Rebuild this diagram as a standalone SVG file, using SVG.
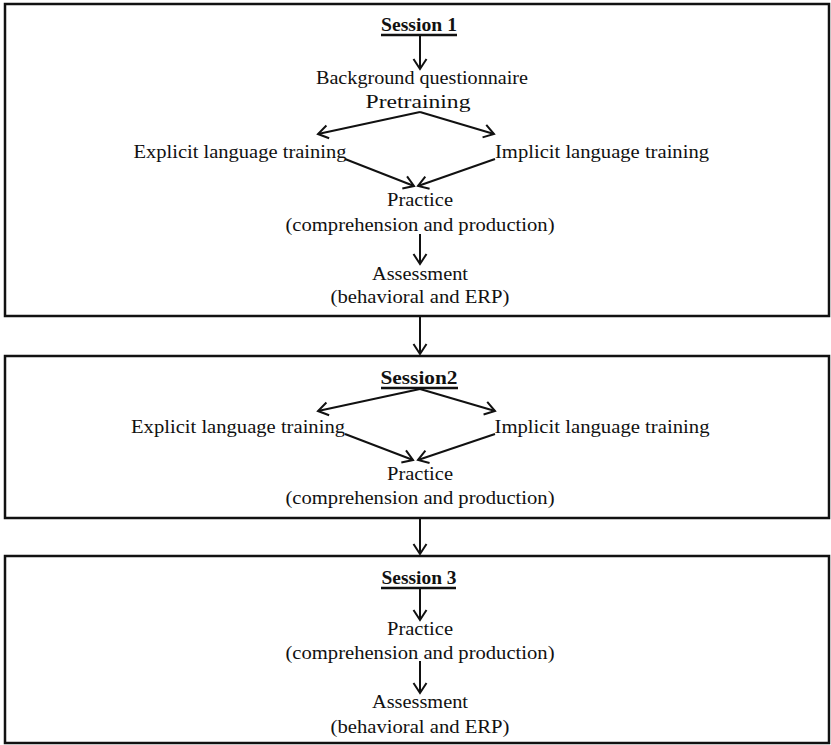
<svg xmlns="http://www.w3.org/2000/svg" width="831" height="745" viewBox="0 0 831 745">
<style>
.box{fill:#fff;stroke:#111;stroke-width:2.5}
.t{font-family:"Liberation Serif","Times New Roman",serif;font-size:19px;fill:#111;text-anchor:middle}
.s{font-weight:bold}
.ul{stroke:#111;stroke-width:2.5}
.c{stroke:#111;stroke-width:2;fill:none;marker-end:url(#ah)}
</style>
<defs>
<marker id="ah" markerUnits="userSpaceOnUse" markerWidth="18" markerHeight="18" refX="12" refY="8" orient="auto">
<path d="M2,1.5 L12,8 L2,14.5" fill="none" stroke="#111" stroke-width="2"/>
</marker>
</defs>
<rect width="831" height="745" fill="#fff"/>
<g id="session1">
<rect class="box" x="5" y="4" width="824" height="312"/>
<text class="t s" x="419" y="31" textLength="76" lengthAdjust="spacingAndGlyphs">Session 1</text>
<line class="ul" x1="381" y1="35" x2="457" y2="35"/>
<text class="t" x="422" y="84" textLength="212" lengthAdjust="spacingAndGlyphs">Background questionnaire</text>
<text class="t" x="418" y="108" textLength="105" lengthAdjust="spacingAndGlyphs">Pretraining</text>
<text class="t" x="240" y="158" textLength="213" lengthAdjust="spacingAndGlyphs">Explicit language training</text>
<text class="t" x="602" y="158" textLength="214" lengthAdjust="spacingAndGlyphs">Implicit language training</text>
<text class="t" x="420" y="206" textLength="66" lengthAdjust="spacingAndGlyphs">Practice</text>
<text class="t" x="420" y="231" textLength="269" lengthAdjust="spacingAndGlyphs">(comprehension and production)</text>
<text class="t" x="420" y="280" textLength="96" lengthAdjust="spacingAndGlyphs">Assessment</text>
<text class="t" x="420" y="303" textLength="179" lengthAdjust="spacingAndGlyphs">(behavioral and ERP)</text>
</g>
<g id="session2">
<rect class="box" x="5" y="356" width="824" height="162"/>
<text class="t s" x="419" y="384" textLength="77" lengthAdjust="spacingAndGlyphs">Session2</text>
<line class="ul" x1="381" y1="388" x2="458" y2="388"/>
<text class="t" x="238" y="433" textLength="214" lengthAdjust="spacingAndGlyphs">Explicit language training</text>
<text class="t" x="602" y="433" textLength="215" lengthAdjust="spacingAndGlyphs">Implicit language training</text>
<text class="t" x="420" y="480" textLength="66" lengthAdjust="spacingAndGlyphs">Practice</text>
<text class="t" x="420" y="504" textLength="269" lengthAdjust="spacingAndGlyphs">(comprehension and production)</text>
</g>
<g id="session3">
<rect class="box" x="5" y="556" width="824" height="187"/>
<text class="t s" x="419" y="584" textLength="75" lengthAdjust="spacingAndGlyphs">Session 3</text>
<line class="ul" x1="381" y1="588" x2="456" y2="588"/>
<text class="t" x="420" y="635" textLength="66" lengthAdjust="spacingAndGlyphs">Practice</text>
<text class="t" x="420" y="659" textLength="269" lengthAdjust="spacingAndGlyphs">(comprehension and production)</text>
<text class="t" x="420" y="708" textLength="96" lengthAdjust="spacingAndGlyphs">Assessment</text>
<text class="t" x="420" y="733" textLength="179" lengthAdjust="spacingAndGlyphs">(behavioral and ERP)</text>
</g>
<g id="connectors">
<line class="c" x1="420" y1="36" x2="420" y2="69"/>
<line class="c" x1="420" y1="112" x2="318" y2="134"/>
<line class="c" x1="420" y1="112" x2="494" y2="134"/>
<line class="c" x1="345" y1="159" x2="414" y2="186"/>
<line class="c" x1="495" y1="159" x2="418" y2="186"/>
<line class="c" x1="420" y1="234" x2="420" y2="264"/>
<line class="c" x1="420" y1="317" x2="420" y2="354"/>
<line class="c" x1="420" y1="389" x2="318" y2="411"/>
<line class="c" x1="420" y1="389" x2="495" y2="411"/>
<line class="c" x1="345" y1="434" x2="413" y2="460"/>
<line class="c" x1="495" y1="434" x2="418" y2="460"/>
<line class="c" x1="420" y1="519" x2="420" y2="554"/>
<line class="c" x1="420" y1="589" x2="420" y2="620"/>
<line class="c" x1="420" y1="661" x2="420" y2="693"/>
</g>
</svg>
